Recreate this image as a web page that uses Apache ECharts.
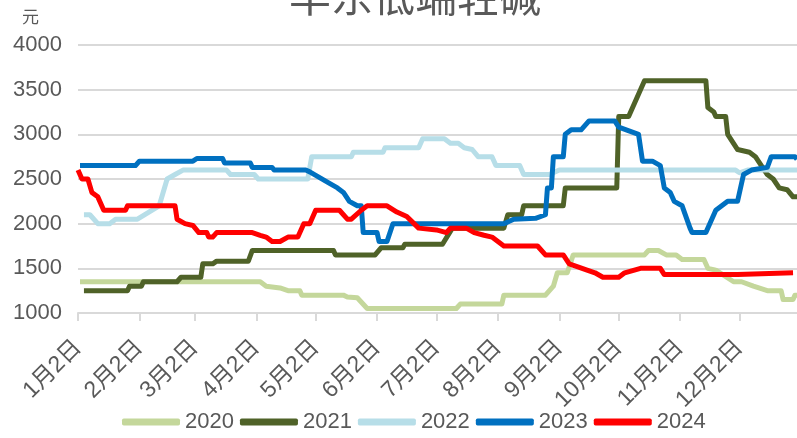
<!DOCTYPE html>
<html>
<head>
<meta charset="utf-8">
<script src="https://cdn.jsdelivr.net/npm/echarts@6/dist/echarts.min.js"></script>
<style>
  html, body { margin: 0; padding: 0; background: #fff; }
  #chart { width: 797px; height: 438px; }
</style>
</head>
<body>
<div id="chart"></div>
<script>
// x positions are day indexes counted from 1月2日
const MONTH_DAYS = [31, 28, 31, 30, 31, 30, 31, 31, 30, 31, 30, 31];
const YEARS = ['2020', '2021', '2022', '2023', '2024'];
const COLORS = ['#c4d79b', '#4f6228', '#b7dee8', '#0070c0', '#ff0000'];

const s2020 = [
  [1, 1350], [92, 1350], [95, 1300], [102, 1280], [106, 1250], [112, 1250], [113, 1200], [134, 1200],
  [136, 1180], [141, 1170], [146, 1050], [191, 1050], [193, 1100], [214, 1100], [215, 1200], [236, 1200],
  [240, 1300], [242, 1450], [247, 1450], [250, 1650], [286, 1650], [288, 1700], [293, 1700], [297, 1650],
  [302, 1650], [305, 1600], [316, 1600], [318, 1500], [322, 1480], [331, 1350], [335, 1350], [341, 1300],
  [348, 1250], [355, 1250], [356, 1150], [361, 1150], [362, 1200], [363, 1200],
];
const s2021 = [
  [3, 1250], [25, 1250], [26, 1300], [32, 1300], [33, 1350], [50, 1350], [52, 1400], [62, 1400],
  [63, 1550], [68, 1550], [70, 1580], [86, 1580], [88, 1700], [129, 1700], [130, 1650], [150, 1650],
  [153, 1730], [164, 1730], [165, 1770], [184, 1770], [189, 1950], [215, 1950], [217, 2100], [224, 2100],
  [225, 2200], [245, 2200], [246, 2400], [272, 2400], [273, 3200], [278, 3200], [286, 3600], [317, 3600],
  [318, 3300], [321, 3250], [322, 3200], [327, 3200], [328, 3000], [333, 2830], [339, 2800], [342, 2750],
  [348, 2550], [351, 2500], [354, 2400], [358, 2380], [361, 2300], [363, 2300],
];
const s2022 = [
  [3, 2100], [6, 2100], [10, 2000], [16, 2000], [19, 2050], [30, 2050], [41, 2200], [45, 2500],
  [49, 2550], [53, 2600], [75, 2600], [77, 2550], [89, 2550], [91, 2500], [116, 2500], [118, 2750],
  [138, 2750], [139, 2800], [154, 2800], [155, 2850], [172, 2850], [174, 2950], [185, 2950], [188, 2900],
  [192, 2900], [195, 2850], [199, 2830], [202, 2750], [209, 2750], [211, 2650], [223, 2650], [225, 2550],
  [238, 2550], [243, 2600], [332, 2600], [334, 2570], [338, 2600], [363, 2600],
];
const s2023 = [
  [1, 2650], [29, 2650], [31, 2700], [58, 2700], [60, 2730], [73, 2730], [74, 2680], [87, 2680],
  [88, 2630], [98, 2630], [99, 2600], [115, 2600], [117, 2580], [127, 2450], [131, 2400], [134, 2350],
  [137, 2250], [141, 2200], [143, 2200], [144, 1900], [151, 1900], [152, 1800], [156, 1800], [159, 2000],
  [215, 2000], [220, 2050], [231, 2060], [236, 2100], [237, 2400], [239, 2400], [240, 2750], [245, 2750],
  [246, 3000], [249, 3050], [254, 3050], [258, 3150], [271, 3150], [273, 3080], [283, 3000], [285, 2700],
  [290, 2700], [294, 2650], [296, 2400], [299, 2350], [301, 2250], [305, 2200], [309, 1950], [310, 1900],
  [317, 1900], [322, 2150], [328, 2250], [333, 2250], [336, 2550], [340, 2600], [348, 2630], [350, 2750],
  [362, 2750], [363, 2720],
];
const s2024 = [
  [0, 2600], [2, 2500], [5, 2500], [7, 2350], [10, 2300], [13, 2150], [24, 2150], [25, 2200],
  [49, 2200], [50, 2050], [54, 2000], [58, 1980], [61, 1900], [65, 1900], [66, 1850], [68, 1850],
  [70, 1900], [88, 1900], [92, 1870], [95, 1850], [98, 1800], [102, 1800], [106, 1850], [111, 1850],
  [114, 2000], [117, 2000], [120, 2150], [132, 2150], [136, 2050], [138, 2050], [143, 2150], [146, 2200],
  [156, 2200], [161, 2130], [166, 2080], [172, 1950], [181, 1930], [186, 1900], [188, 1950], [196, 1950],
  [200, 1900], [205, 1870], [209, 1850], [215, 1750], [232, 1750], [236, 1650], [245, 1650], [248, 1550],
  [252, 1520], [257, 1480], [261, 1450], [265, 1400], [273, 1400], [276, 1450], [284, 1500], [294, 1500],
  [296, 1430], [333, 1430], [334, 1450], [361, 1450],
];
const SERIES_DATA = [s2020, s2021, s2022, s2023, s2024];

// category list: 1月2日 ... 12月31日
const days = [];
MONTH_DAYS.forEach((n, m) => {
  for (let d = 1; d <= n; d++) {
    if (m === 0 && d === 1) continue;
    days.push((m + 1) + '月' + d + '日');
  }
});
const isMonthTick = (idx, val) => /^\d+月2日$/.test(val);

const FONT = '"Liberation Sans", "Noto Sans CJK SC", sans-serif';
const GREY = '#595959';

const chart = echarts.init(document.getElementById('chart'));
chart.setOption({
  animation: false,
  title: {
    text: '华东低端轻碱',
    left: 410,
    top: -30,
    textAlign: 'center',
    textStyle: { fontSize: 42, fontWeight: 'normal', color: GREY, fontFamily: '"Noto Sans CJK SC", sans-serif' },
  },
  graphic: [{
    type: 'text',
    left: 22,
    top: 8,
    style: { text: '元', fill: GREY, font: '17px "Noto Sans CJK SC"' },
  }],
  grid: { left: 78, right: 0, top: 45, bottom: 125 },
  legend: {
    bottom: 0,
    left: 117,
    data: YEARS,
    icon: 'roundRect',
    itemWidth: 58,
    itemHeight: 7,
    itemGap: 6,
    textStyle: { fontSize: 22, color: GREY, fontFamily: FONT },
  },
  xAxis: {
    type: 'category',
    data: days,
    boundaryGap: false,
    axisLine: { lineStyle: { color: '#d9d9d9', width: 2 } },
    axisTick: { interval: isMonthTick, length: 8, lineStyle: { color: '#d9d9d9', width: 2 } },
    axisLabel: {
      interval: isMonthTick,
      rotate: 45,
      margin: 31,
      fontSize: 23,
      color: GREY,
      fontFamily: FONT,
    },
  },
  yAxis: {
    type: 'value',
    min: 1000,
    max: 4000,
    interval: 500,
    axisLine: { show: false },
    axisTick: { show: false },
    axisLabel: { fontSize: 22, color: GREY, margin: 16, fontFamily: FONT, formatter: (v) => String(v) },
    splitLine: { lineStyle: { color: '#d9d9d9', width: 2 } },
  },
  series: YEARS.map((name, i) => ({
    name,
    type: 'line',
    data: SERIES_DATA[i],
    showSymbol: false,
    symbol: 'none',
    color: COLORS[i],
    lineStyle: { width: 5, color: COLORS[i], join: 'round' },
  })),
});
</script>
</body>
</html>
